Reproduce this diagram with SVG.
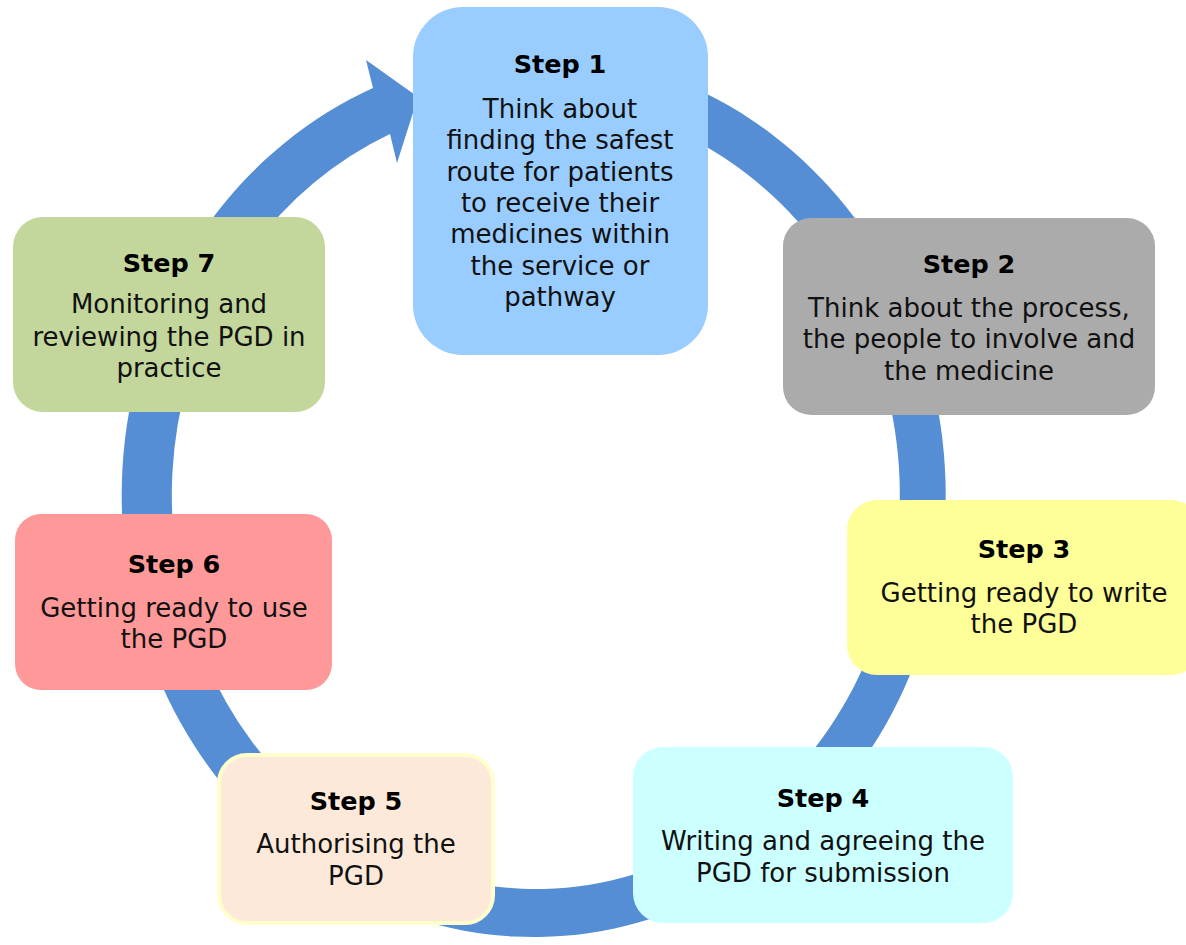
<svg xmlns="http://www.w3.org/2000/svg" width="1186" height="945" viewBox="0 0 1186 945">
  <style>
    .title { font-family: "DejaVu Sans", Verdana, sans-serif; font-size: 25.5px; font-weight: bold; fill: #000; text-anchor: middle; }
    .body { font-family: "DejaVu Sans", Verdana, sans-serif; font-size: 26px; fill: #111; text-anchor: middle; }
    .ring { fill: #558ED5; }
  </style>
  <rect width="1186" height="945" fill="#ffffff"/>

  <!-- circular flow arrow, clockwise, head pointing into Step 1
       outer ellipse: c(536,495) rx412 ry442; inner ellipse: rx364 ry394 -->
  <g id="connectors">
    <path class="ring" d="M 536 53 A 412 442 0 1 1 373 88 L 366 60 L 418 97 L 397 163 L 390 134 A 364 394 0 1 0 536 101 Z"/>
  </g>

  <g id="step1">
    <rect x="413" y="7" width="295" height="348" rx="50" ry="50" fill="#99CCFF"/>
    <text class="title" x="560" y="73">Step 1</text>
    <text class="body" x="560" y="118">Think about</text>
    <text class="body" x="560" y="149">finding the safest</text>
    <text class="body" x="560" y="181">route for patients</text>
    <text class="body" x="560" y="212">to receive their</text>
    <text class="body" x="560" y="243">medicines within</text>
    <text class="body" x="560" y="275">the service or</text>
    <text class="body" x="560" y="306">pathway</text>
  </g>

  <g id="step2">
    <rect x="783" y="218" width="372" height="197" rx="28" ry="28" fill="#ABABAB"/>
    <text class="title" x="969" y="273">Step 2</text>
    <text class="body" x="969" y="317">Think about the process,</text>
    <text class="body" x="969" y="348">the people to involve and</text>
    <text class="body" x="969" y="380">the medicine</text>
  </g>

  <g id="step3">
    <rect x="847" y="500" width="354" height="175" rx="30" ry="30" fill="#FFFF99"/>
    <text class="title" x="1024" y="558">Step 3</text>
    <text class="body" x="1024" y="602">Getting ready to write</text>
    <text class="body" x="1024" y="633">the PGD</text>
  </g>

  <g id="step4">
    <rect x="633" y="747" width="380" height="176" rx="30" ry="30" fill="#CCFFFF"/>
    <text class="title" x="823" y="807">Step 4</text>
    <text class="body" x="823" y="850">Writing and agreeing the</text>
    <text class="body" x="823" y="882">PGD for submission</text>
  </g>

  <g id="step5">
    <rect x="219" y="755" width="274" height="168" rx="28" ry="28" fill="#FDE9D9" stroke="#FFFFCC" stroke-width="4"/>
    <text class="title" x="356" y="810">Step 5</text>
    <text class="body" x="356" y="853">Authorising the</text>
    <text class="body" x="356" y="885">PGD</text>
  </g>

  <g id="step6">
    <rect x="15" y="514" width="317" height="176" rx="26" ry="26" fill="#FF9999"/>
    <text class="title" x="174" y="573">Step 6</text>
    <text class="body" x="174" y="617">Getting ready to use</text>
    <text class="body" x="174" y="648">the PGD</text>
  </g>

  <g id="step7">
    <rect x="13" y="217" width="312" height="195" rx="30" ry="30" fill="#C3D69B"/>
    <text class="title" x="169" y="272">Step 7</text>
    <text class="body" x="169" y="313">Monitoring and</text>
    <text class="body" x="169" y="346">reviewing the PGD in</text>
    <text class="body" x="169" y="377">practice</text>
  </g>
</svg>
